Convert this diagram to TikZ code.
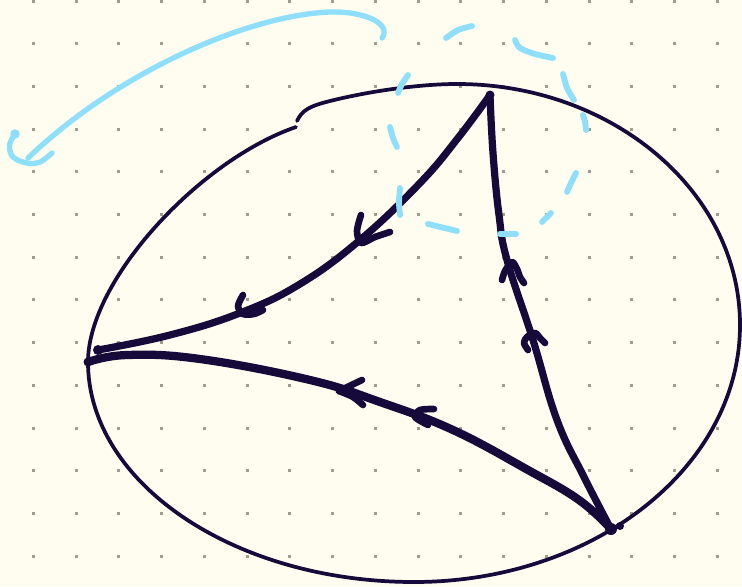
\documentclass[tikz,border=0pt]{standalone}
\usetikzlibrary{calc}
\definecolor{ink}{HTML}{150A3A}
\definecolor{sky}{HTML}{8FDFFA}
\definecolor{paper}{HTML}{FFFDF0}
\definecolor{dotc}{HTML}{9E9D8E}
\begin{document}
\begin{tikzpicture}[x=0.75pt,y=-0.75pt,
  ell/.style={draw=ink,line width=2.8pt,line cap=round,line join=round},
  tri/.style={draw=ink,line width=5.4pt,line cap=round,line join=round},
  trib/.style={draw=ink,line width=6.2pt,line cap=round,line join=round},
  barb/.style={draw=ink,line width=5pt,line cap=round,line join=round},
  blue/.style={draw=sky,line width=4pt,line cap=round,line join=round},
  bdash/.style={draw=sky,line width=4.4pt,line cap=round,line join=round}]
\fill[paper] (0,0) rectangle (742,586);
\useasboundingbox (0,0) rectangle (742,586);
% dot grid
\foreach \i in {0,...,16}{
  \foreach \j in {0,...,13}{
    \fill[dotc] ({33.3+42.75*\i-1.5},{1+42.7*\j-1.5}) rectangle ++(3,3);
  }
}
% vertices
\coordinate (A) at (490,95);
\coordinate (B) at (88,362);
\coordinate (Bt) at (98,350);
\coordinate (C) at (611,529);
% big ellipse (hand drawn, with a small break at top left)
\draw[ell] (297,121) .. controls (302,110) and (310,106) .. (330,101)
  .. controls (370,91) and (420,84) .. (457,84)
  .. controls (613,84) and (740,192) .. (740,325)
  .. controls (740,467) and (594,582) .. (414,582)
  .. controls (234,582) and (88,483) .. (88,362)
  .. controls (88,280) and (200,160) .. (296,127);
% triangle edges
\draw[tri] plot[smooth,tension=0.7] coordinates {
 (A) (458,138) (420,183) (360,240) (300,284)
 (240,313) (170,335) (Bt)};
\draw[tri] plot[smooth,tension=0.7] coordinates {
 (C) (584,477) (557,420) (533,340) (507,260) (499,215) (493,153) (A)};
\draw[trib] plot[smooth,tension=0.7] coordinates {
 (C) (579,500) (528,470) (453,430) (380,402)
 (310,380) (200,359) (127,355) (B)};
% vertex blobs
\fill[ink] (A) circle (4.5);
\fill[ink] (Bt) circle (5);
\fill[ink] (117,346) circle (3.5);
\fill[ink] (B) circle (4.5);
\fill[ink] (C) circle (6);
\fill[ink] (620,526) circle (4);
% arrowheads on A -> B
\draw[barb] plot[smooth,tension=0.5] coordinates {(361,215) (357,231) (361,243) (375,237) (390,232)};
\draw[barb] plot[smooth,tension=0.5] coordinates {(243,295) (238,306) (243,314) (254,314) (263,310)};
% arrowheads on C -> A
\draw[barb] plot[smooth,tension=0.5] coordinates {(502,280) (505,271) (512,262) (517,269) (520,277) (524,283)};
\draw[barb] plot[smooth,tension=0.5] coordinates {(528,350) (524,343) (527,337) (535,333) (540,338) (545,343)};
% arrowheads on C -> B
\draw[barb] (362,380) -- (339,391);
\draw[barb] plot[smooth,tension=0.5] coordinates {(339,391) (353,397) (363,405)};
\draw[barb] plot[smooth,tension=0.5] coordinates {(434,409) (420,410) (415,417) (428,425)};
% light blue arrow
\draw[blue] (28,158) .. controls (120,70) and (250,15) .. (330,12)
  .. controls (365,11) and (392,24) .. (382,38);
\fill[sky] (15,134) circle (4.8);
\draw[blue] plot[smooth,tension=0.6] coordinates {(15,134) (9.5,145) (13,157) (27,163) (40,162) (52,153)};
% light blue dashed loop
\draw[bdash] plot[smooth] coordinates {(446,38) (458,30) (472,26)};
\draw[bdash] plot[smooth] coordinates {(515,40) (520,48) (535,54) (553,58)};
\draw[bdash] plot[smooth] coordinates {(408,75) (402,84) (398,93)};
\draw[bdash] plot[smooth] coordinates {(563,74) (567,88) (574,100)};
\draw[bdash] plot[smooth] coordinates {(583,115) (585,122) (586,130)};
\draw[bdash] plot[smooth] coordinates {(390,127) (393,138) (397,147)};
\draw[bdash] plot[smooth] coordinates {(576,173) (571,183) (567,192)};
\draw[bdash] plot[smooth] coordinates {(400,188) (399,202) (400,215)};
\draw[bdash] (551,213) -- (542,222);
\draw[bdash] (428,224) -- (457,231);
\draw[bdash] (500,234) -- (516,234);
\end{tikzpicture}
\end{document}
